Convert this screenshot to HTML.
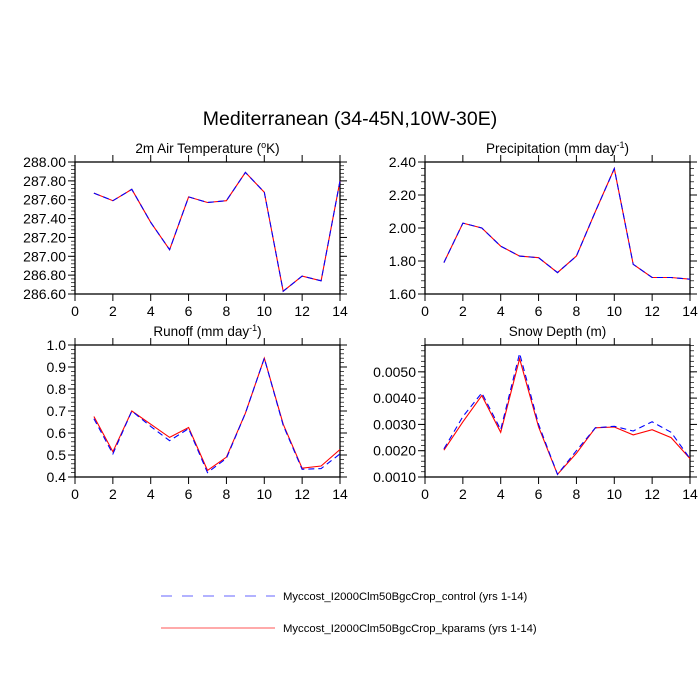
<!DOCTYPE html>
<html><head><meta charset="utf-8"><style>
body{margin:0;background:#fff}
svg{display:block;font-family:"Liberation Sans",sans-serif}
</style></head><body>
<svg id="s" width="700" height="700" xmlns="http://www.w3.org/2000/svg">
<rect width="700" height="700" fill="#fff"/>
<text x="350" y="125" font-size="19.5" text-anchor="middle">Mediterranean (34-45N,10W-30E)</text>
<line x1="161" y1="596" x2="275" y2="596" stroke="#6666ff" stroke-width="1" stroke-dasharray="11,10"/>
<text x="283" y="600" font-size="11.3">Myccost_I2000Clm50BgcCrop_control (yrs 1-14)</text>
<line x1="161" y1="628" x2="275" y2="628" stroke="#ff5555" stroke-width="1"/>
<text x="283" y="632" font-size="11.3">Myccost_I2000Clm50BgcCrop_kparams (yrs 1-14)</text>
</svg>
<script>
var s=document.getElementById('s'),NS="http://www.w3.org/2000/svg";
function el(t,a,txt){var e=document.createElementNS(NS,t);for(var k in a)e.setAttribute(k,a[k]);if(txt!==undefined)e.textContent=txt;s.appendChild(e);return e;}
function panel(o){
 var L=o.x,R=o.x+265,T=o.y,B=o.y+132;
 function px(x){return L+x/14*(R-L);}
 function py(v){return B-(v-o.ymin)/(o.ymax-o.ymin)*(B-T);}
 el('rect',{x:L,y:T,width:R-L,height:B-T,fill:'none',stroke:'#000','stroke-width':1.3});
 for(var i=0;i<=14;i+=2){var X=px(i);
  el('line',{x1:X,y1:B,x2:X,y2:B+7,stroke:'#000'});
  el('line',{x1:X,y1:T,x2:X,y2:T-7,stroke:'#000'});
  el('text',{x:X,y:B+22,'font-size':14,'text-anchor':'middle'},String(i));
 }
 for(var v=o.ymin;v<=o.ymax+1e-9;v+=o.minor){var Y=py(v);
  if(Y<T-0.5)break;
  el('line',{x1:L,y1:Y,x2:L-4,y2:Y,stroke:'#000','stroke-width':0.7});
  el('line',{x1:R,y1:Y,x2:R+4,y2:Y,stroke:'#000','stroke-width':0.7});}
 o.majors.forEach(function(v){var Y=py(v);
  el('line',{x1:L,y1:Y,x2:L-7,y2:Y,stroke:'#000'});
  el('line',{x1:R,y1:Y,x2:R+7,y2:Y,stroke:'#000'});
  el('text',{x:L-9,y:Y+5,'font-size':14,'text-anchor':'end'},v.toFixed(o.dec));});
 var t=el('text',{x:(L+R)/2,y:T-9,'font-size':13.5,'text-anchor':'middle'});
 t.innerHTML=o.title;
 function pts(d){return d.map(function(v,i){return px(i+1).toFixed(1)+','+py(v).toFixed(1)}).join(' ');}
 el('polyline',{points:pts(o.red),fill:'none',stroke:'#ff0000','stroke-width':1.1});
 el('polyline',{points:pts(o.blue),fill:'none',stroke:'#0000ff','stroke-width':1.1,'stroke-dasharray':'6,4'});
}
var temp=[287.67,287.59,287.71,287.36,287.07,287.63,287.57,287.59,287.89,287.68,286.63,286.79,286.74,287.80];
panel({x:75,y:162,ymin:286.6,ymax:288.0,minor:0.04,dec:2,majors:[286.6,286.8,287,287.2,287.4,287.6,287.8,288],
 title:'2m Air Temperature (<tspan dy="-5" font-size="9">o</tspan><tspan dy="5">K)</tspan>',red:temp,blue:temp});
var pr=[1.79,2.03,2.00,1.89,1.83,1.82,1.73,1.83,2.10,2.36,1.78,1.70,1.70,1.69];
panel({x:425,y:162,ymin:1.6,ymax:2.4,minor:0.04,dec:2,majors:[1.6,1.8,2.0,2.2,2.4],
 title:'Precipitation (mm day<tspan dy="-5" font-size="9">-1</tspan><tspan dy="5">)</tspan>',red:pr,blue:pr});
panel({x:75,y:345,ymin:0.4,ymax:1.0,minor:0.02,dec:1,majors:[0.4,0.5,0.6,0.7,0.8,0.9,1.0],
 title:'Runoff (mm day<tspan dy="-5" font-size="9">-1</tspan><tspan dy="5">)</tspan>',
 red:[.675,.515,.70,.64,.58,.625,.43,.49,.69,.94,.64,.44,.45,.525],
 blue:[.665,.505,.70,.63,.565,.62,.42,.485,.69,.94,.635,.435,.438,.505]});
panel({x:425,y:345,ymin:0.001,ymax:0.00602,minor:0.0002,dec:4,majors:[0.001,0.002,0.003,0.004,0.005],
 title:'Snow Depth (m)',
 red:[.00202,.0031,.0041,.0027,.0055,.0029,.0011,.0019,.00287,.0029,.0026,.0028,.0025,.0017],
 blue:[.00207,.0033,.0042,.0028,.0057,.0030,.0011,.0020,.00287,.00293,.00275,.0031,.0027,.0017]});
</script>
</body></html>
